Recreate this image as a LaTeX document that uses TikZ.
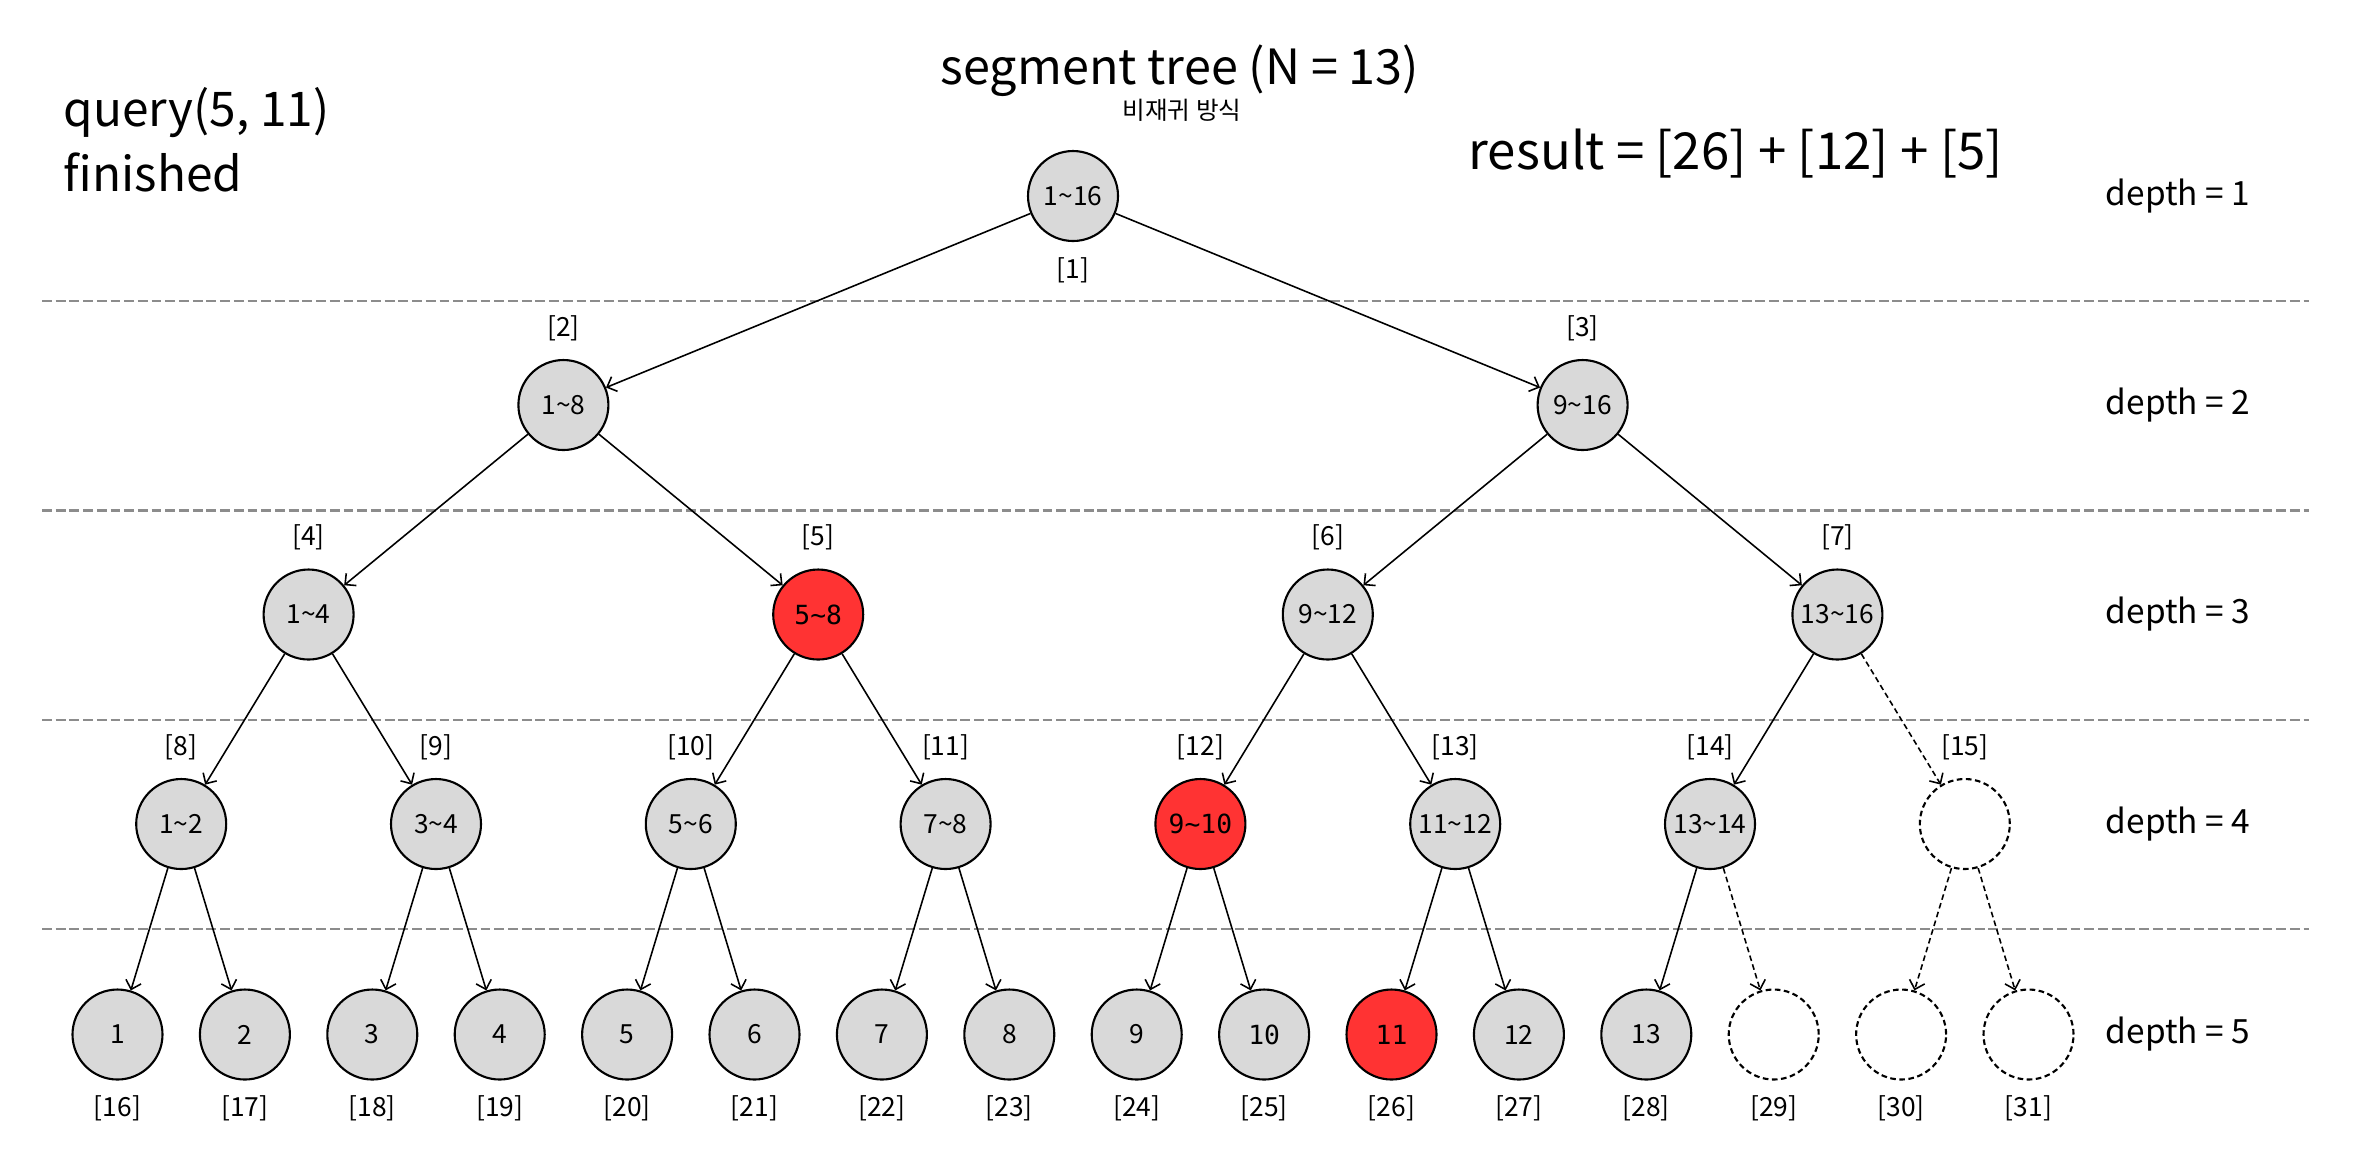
\documentclass[tikz,border=0pt]{standalone}
\usepackage{fontspec}
\setmainfont{Noto Sans CJK KR}
\setmonofont{DejaVu Sans Mono}
\usepackage{xcolor}
\usetikzlibrary{arrows.meta}
\definecolor{nodegray}{HTML}{D9D9D9}
\definecolor{hitred}{HTML}{FF3333}
\definecolor{sepgray}{HTML}{8C8C8C}
\newcommand{\tl}{\textasciitilde}

\begin{document}
\begin{tikzpicture}[
    seg/.style={circle, draw, line width=0.6pt, fill=nodegray, minimum size=0.9cm, inner sep=0pt, font=\fontsize{7.5}{9}\selectfont},
    hit/.style={seg, fill=hitred},
    blank/.style={seg, fill=none, dashed, dash pattern=on 1.6pt off 1pt},
    idx/.style={font=\fontsize{7.5}{9}\selectfont},
    depthlbl/.style={font=\fontsize{9.5}{11}\selectfont},
    edge/.style={line width=0.45pt, -{Straight Barb[length=2.3pt,width=4.5pt]}},
    dedge/.style={edge, dash pattern=on 1.6pt off 1pt},
    sep/.style={sepgray, line width=0.7pt, dash pattern=on 2.8pt off 1.1pt}
]
    \useasboundingbox (0,0) rectangle (23.62,-11.48);

    % Titles
    \node[font=\fontsize{13.8}{16}\selectfont, anchor=base] (title) at (11.80,-0.84) {segment tree (N = 13)};
    \node[font=\fontsize{7}{8}\selectfont] (subtitle) at (11.82,-1.10) {비재귀 방식};
    \node[font=\fontsize{13.6}{16}\selectfont, anchor=base west, inner sep=0pt] (query) at (0.63,-1.26) {query(5, 11)};
    \node[font=\fontsize{13.6}{16}\selectfont, anchor=base west, inner sep=0pt] (done) at (0.63,-1.91) {finished};
    \node[font=\fontsize{14.5}{17}\selectfont, anchor=base west, inner sep=0pt] (result) at (14.68,-1.69) {result = [26] + [12] + [5]};

    % Depth separators
    \draw[sep] (0.42,-3.01) -- (23.09,-3.01);
    \draw[sep] (0.42,-5.105) -- (23.09,-5.105);
    \draw[sep] (0.42,-7.20) -- (23.09,-7.20);
    \draw[sep] (0.42,-9.29) -- (23.09,-9.29);

    % Depth labels
    \node[depthlbl] (dep1) at (21.78,-1.96) {depth = 1};
    \node[depthlbl] (dep2) at (21.78,-4.05) {depth = 2};
    \node[depthlbl] (dep3) at (21.78,-6.145) {depth = 3};
    \node[depthlbl] (dep4) at (21.78,-8.24) {depth = 4};
    \node[depthlbl] (dep5) at (21.78,-10.345) {depth = 5};

    % Tree nodes
    \node[seg] (n1) at (10.730,-1.96) {1\tl16};

    \node[seg] (n2) at (5.634,-4.05) {1\tl8};
    \node[seg] (n3) at (15.826,-4.05) {9\tl16};

    \node[seg] (n4) at (3.086,-6.145) {1\tl4};
    \node[hit] (n5) at (8.182,-6.145) {\ttfamily 5\tl8};
    \node[seg] (n6) at (13.278,-6.145) {9\tl12};
    \node[seg] (n7) at (18.374,-6.145) {13\tl16};

    \node[seg] (n8) at (1.812,-8.24) {1\tl2};
    \node[seg] (n9) at (4.360,-8.24) {3\tl4};
    \node[seg] (n10) at (6.908,-8.24) {5\tl6};
    \node[seg] (n11) at (9.456,-8.24) {7\tl8};
    \node[hit] (n12) at (12.004,-8.24) {\ttfamily 9\tl10};
    \node[seg] (n13) at (14.552,-8.24) {11\tl12};
    \node[seg] (n14) at (17.100,-8.24) {13\tl14};
    \node[blank] (n15) at (19.648,-8.24) {};

    \node[seg] (n16) at (1.175,-10.345) {1};
    \node[seg] (n17) at (2.449,-10.345) {2};
    \node[seg] (n18) at (3.723,-10.345) {3};
    \node[seg] (n19) at (4.997,-10.345) {4};
    \node[seg] (n20) at (6.271,-10.345) {5};
    \node[seg] (n21) at (7.545,-10.345) {6};
    \node[seg] (n22) at (8.819,-10.345) {7};
    \node[seg] (n23) at (10.093,-10.345) {8};
    \node[seg] (n24) at (11.367,-10.345) {9};
    \node[seg] (n25) at (12.641,-10.345) {\ttfamily 10};
    \node[hit] (n26) at (13.915,-10.345) {\ttfamily 11};
    \node[seg] (n27) at (15.189,-10.345) {12};
    \node[seg] (n28) at (16.463,-10.345) {13};
    \node[blank] (n29) at (17.737,-10.345) {};
    \node[blank] (n30) at (19.011,-10.345) {};
    \node[blank] (n31) at (20.285,-10.345) {};

    % Array indices
    \node[idx] (i1) at (10.730,-2.70) {[1]};
    \node[idx] (i2) at (5.634,-3.28) {[2]};
    \node[idx] (i3) at (15.826,-3.28) {[3]};
    \node[idx] (i4) at (3.086,-5.375) {[4]};
    \node[idx] (i5) at (8.182,-5.375) {[5]};
    \node[idx] (i6) at (13.278,-5.375) {[6]};
    \node[idx] (i7) at (18.374,-5.375) {[7]};
    \node[idx] (i8) at (1.812,-7.47) {[8]};
    \node[idx] (i9) at (4.360,-7.47) {[9]};
    \node[idx] (i10) at (6.908,-7.47) {[10]};
    \node[idx] (i11) at (9.456,-7.47) {[11]};
    \node[idx] (i12) at (12.004,-7.47) {[12]};
    \node[idx] (i13) at (14.552,-7.47) {[13]};
    \node[idx] (i14) at (17.100,-7.47) {[14]};
    \node[idx] (i15) at (19.648,-7.47) {[15]};
    \node[idx] (i16) at (1.175,-11.085) {[16]};
    \node[idx] (i17) at (2.449,-11.085) {[17]};
    \node[idx] (i18) at (3.723,-11.085) {[18]};
    \node[idx] (i19) at (4.997,-11.085) {[19]};
    \node[idx] (i20) at (6.271,-11.085) {[20]};
    \node[idx] (i21) at (7.545,-11.085) {[21]};
    \node[idx] (i22) at (8.819,-11.085) {[22]};
    \node[idx] (i23) at (10.093,-11.085) {[23]};
    \node[idx] (i24) at (11.367,-11.085) {[24]};
    \node[idx] (i25) at (12.641,-11.085) {[25]};
    \node[idx] (i26) at (13.915,-11.085) {[26]};
    \node[idx] (i27) at (15.189,-11.085) {[27]};
    \node[idx] (i28) at (16.463,-11.085) {[28]};
    \node[idx] (i29) at (17.737,-11.085) {[29]};
    \node[idx] (i30) at (19.011,-11.085) {[30]};
    \node[idx] (i31) at (20.285,-11.085) {[31]};

    % Edges
    \draw[edge] (n1) -- (n2);
    \draw[edge] (n1) -- (n3);
    \draw[edge] (n2) -- (n4);
    \draw[edge] (n2) -- (n5);
    \draw[edge] (n3) -- (n6);
    \draw[edge] (n3) -- (n7);
    \draw[edge] (n4) -- (n8);
    \draw[edge] (n4) -- (n9);
    \draw[edge] (n5) -- (n10);
    \draw[edge] (n5) -- (n11);
    \draw[edge] (n6) -- (n12);
    \draw[edge] (n6) -- (n13);
    \draw[edge] (n7) -- (n14);
    \draw[dedge] (n7) -- (n15);
    \draw[edge] (n8) -- (n16);
    \draw[edge] (n8) -- (n17);
    \draw[edge] (n9) -- (n18);
    \draw[edge] (n9) -- (n19);
    \draw[edge] (n10) -- (n20);
    \draw[edge] (n10) -- (n21);
    \draw[edge] (n11) -- (n22);
    \draw[edge] (n11) -- (n23);
    \draw[edge] (n12) -- (n24);
    \draw[edge] (n12) -- (n25);
    \draw[edge] (n13) -- (n26);
    \draw[edge] (n13) -- (n27);
    \draw[edge] (n14) -- (n28);
    \draw[dedge] (n14) -- (n29);
    \draw[dedge] (n15) -- (n30);
    \draw[dedge] (n15) -- (n31);
\end{tikzpicture}
\end{document}
